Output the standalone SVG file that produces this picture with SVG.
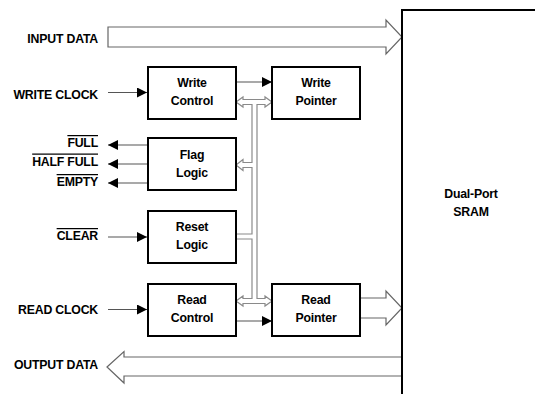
<svg xmlns="http://www.w3.org/2000/svg" width="535" height="394" viewBox="0 0 535 394">
<defs>
<style>
text{font-family:"Liberation Sans",Arial,Helvetica,sans-serif;font-weight:bold;font-size:12.3px;letter-spacing:-0.2px;fill:#000}
.lbl{text-anchor:end}
.c{text-anchor:middle}
.box{fill:#fff;stroke:#000;stroke-width:2}
.sig{stroke:#555;stroke-width:1.2;fill:none}
.hollow{fill:#fff;stroke:#666;stroke-width:1.2;stroke-linejoin:miter}
.bus{fill:#fff;stroke:#8a8a8a;stroke-width:1.2}
.ov{text-decoration:overline}
</style>
<marker id="ah" viewBox="0 0 10 10" refX="10" refY="5" markerWidth="11" markerHeight="10" markerUnits="userSpaceOnUse" orient="auto">
<path d="M0,0 L10,5 L0,10 Z" fill="#000"/>
</marker>
</defs>

<g id="connectors">
<polygon class="hollow" points="108,27 386,27 386,20 402,37 386,54 386,47 108,47"/>
<polygon class="hollow" points="107,367 124,351.5 124,357 402,357 402,376 124,376 124,383"/>
<polygon class="hollow" points="360,298 386,298 386,291 402,308 386,325 386,318 360,318"/>
<path class="bus" d="M236,102 L243,97 L243,99.5 L265,99.5 L265,97 L272,102 L265,107 L265,104.5 L257,104.5 L257,298.5 L265,298.5 L265,296 L272,301 L265,306 L265,303.5 L243,303.5 L243,306 L236,301 L243,296 L243,298.5 L252,298.5 L252,239 L236,239 L236,234 L252,234 L252,167.5 L243,167.5 L243,170.5 L236,165 L243,159.5 L243,162.5 L252,162.5 L252,104.5 L243,104.5 L243,107 Z"/>
<line class="sig" x1="108" y1="92.5" x2="147" y2="92.5" marker-end="url(#ah)"/>
<line class="sig" x1="108" y1="237" x2="147" y2="237" marker-end="url(#ah)"/>
<line class="sig" x1="108" y1="309.5" x2="147" y2="309.5" marker-end="url(#ah)"/>
<line class="sig" x1="236" y1="82" x2="272" y2="82" marker-end="url(#ah)"/>
<line class="sig" x1="236" y1="321" x2="272" y2="321" marker-end="url(#ah)"/>
<line class="sig" x1="148" y1="145" x2="108" y2="145" marker-end="url(#ah)"/>
<line class="sig" x1="148" y1="164" x2="108" y2="164" marker-end="url(#ah)"/>
<line class="sig" x1="148" y1="183" x2="108" y2="183" marker-end="url(#ah)"/>
</g>

<g id="sram">
<path d="M402,394 V10 H536" fill="none" stroke="#000" stroke-width="2"/>
<text class="c" x="471" y="198">Dual-Port</text>
<text class="c" x="471" y="216">SRAM</text>
</g>

<g id="write-control">
<rect class="box" x="148" y="67" width="88" height="52"/>
<text class="c" x="192" y="87">Write</text>
<text class="c" x="192" y="105">Control</text>
</g>
<g id="write-pointer">
<rect class="box" x="272" y="67" width="88" height="52"/>
<text class="c" x="316" y="87">Write</text>
<text class="c" x="316" y="105">Pointer</text>
</g>
<g id="flag-logic">
<rect class="box" x="148" y="138" width="88" height="52"/>
<text class="c" x="192" y="158.5">Flag</text>
<text class="c" x="192" y="176.5">Logic</text>
</g>
<g id="reset-logic">
<rect class="box" x="148" y="211" width="88" height="52"/>
<text class="c" x="192" y="231">Reset</text>
<text class="c" x="192" y="249">Logic</text>
</g>
<g id="read-control">
<rect class="box" x="148" y="284" width="88" height="52"/>
<text class="c" x="192" y="304">Read</text>
<text class="c" x="192" y="322">Control</text>
</g>
<g id="read-pointer">
<rect class="box" x="272" y="284" width="88" height="52"/>
<text class="c" x="316" y="304">Read</text>
<text class="c" x="316" y="322">Pointer</text>
</g>

<g id="labels">
<text class="lbl" x="98" y="43">INPUT DATA</text>
<text class="lbl" x="98" y="98.5">WRITE CLOCK</text>
<text class="lbl ov" x="98" y="147">FULL</text>
<text class="lbl ov" x="98" y="165.5">HALF FULL</text>
<text class="lbl ov" x="98" y="186">EMPTY</text>
<text class="lbl ov" x="98" y="240">CLEAR</text>
<text class="lbl" x="98" y="313.5">READ CLOCK</text>
<text class="lbl" x="98" y="368.5">OUTPUT DATA</text>
</g>
</svg>
